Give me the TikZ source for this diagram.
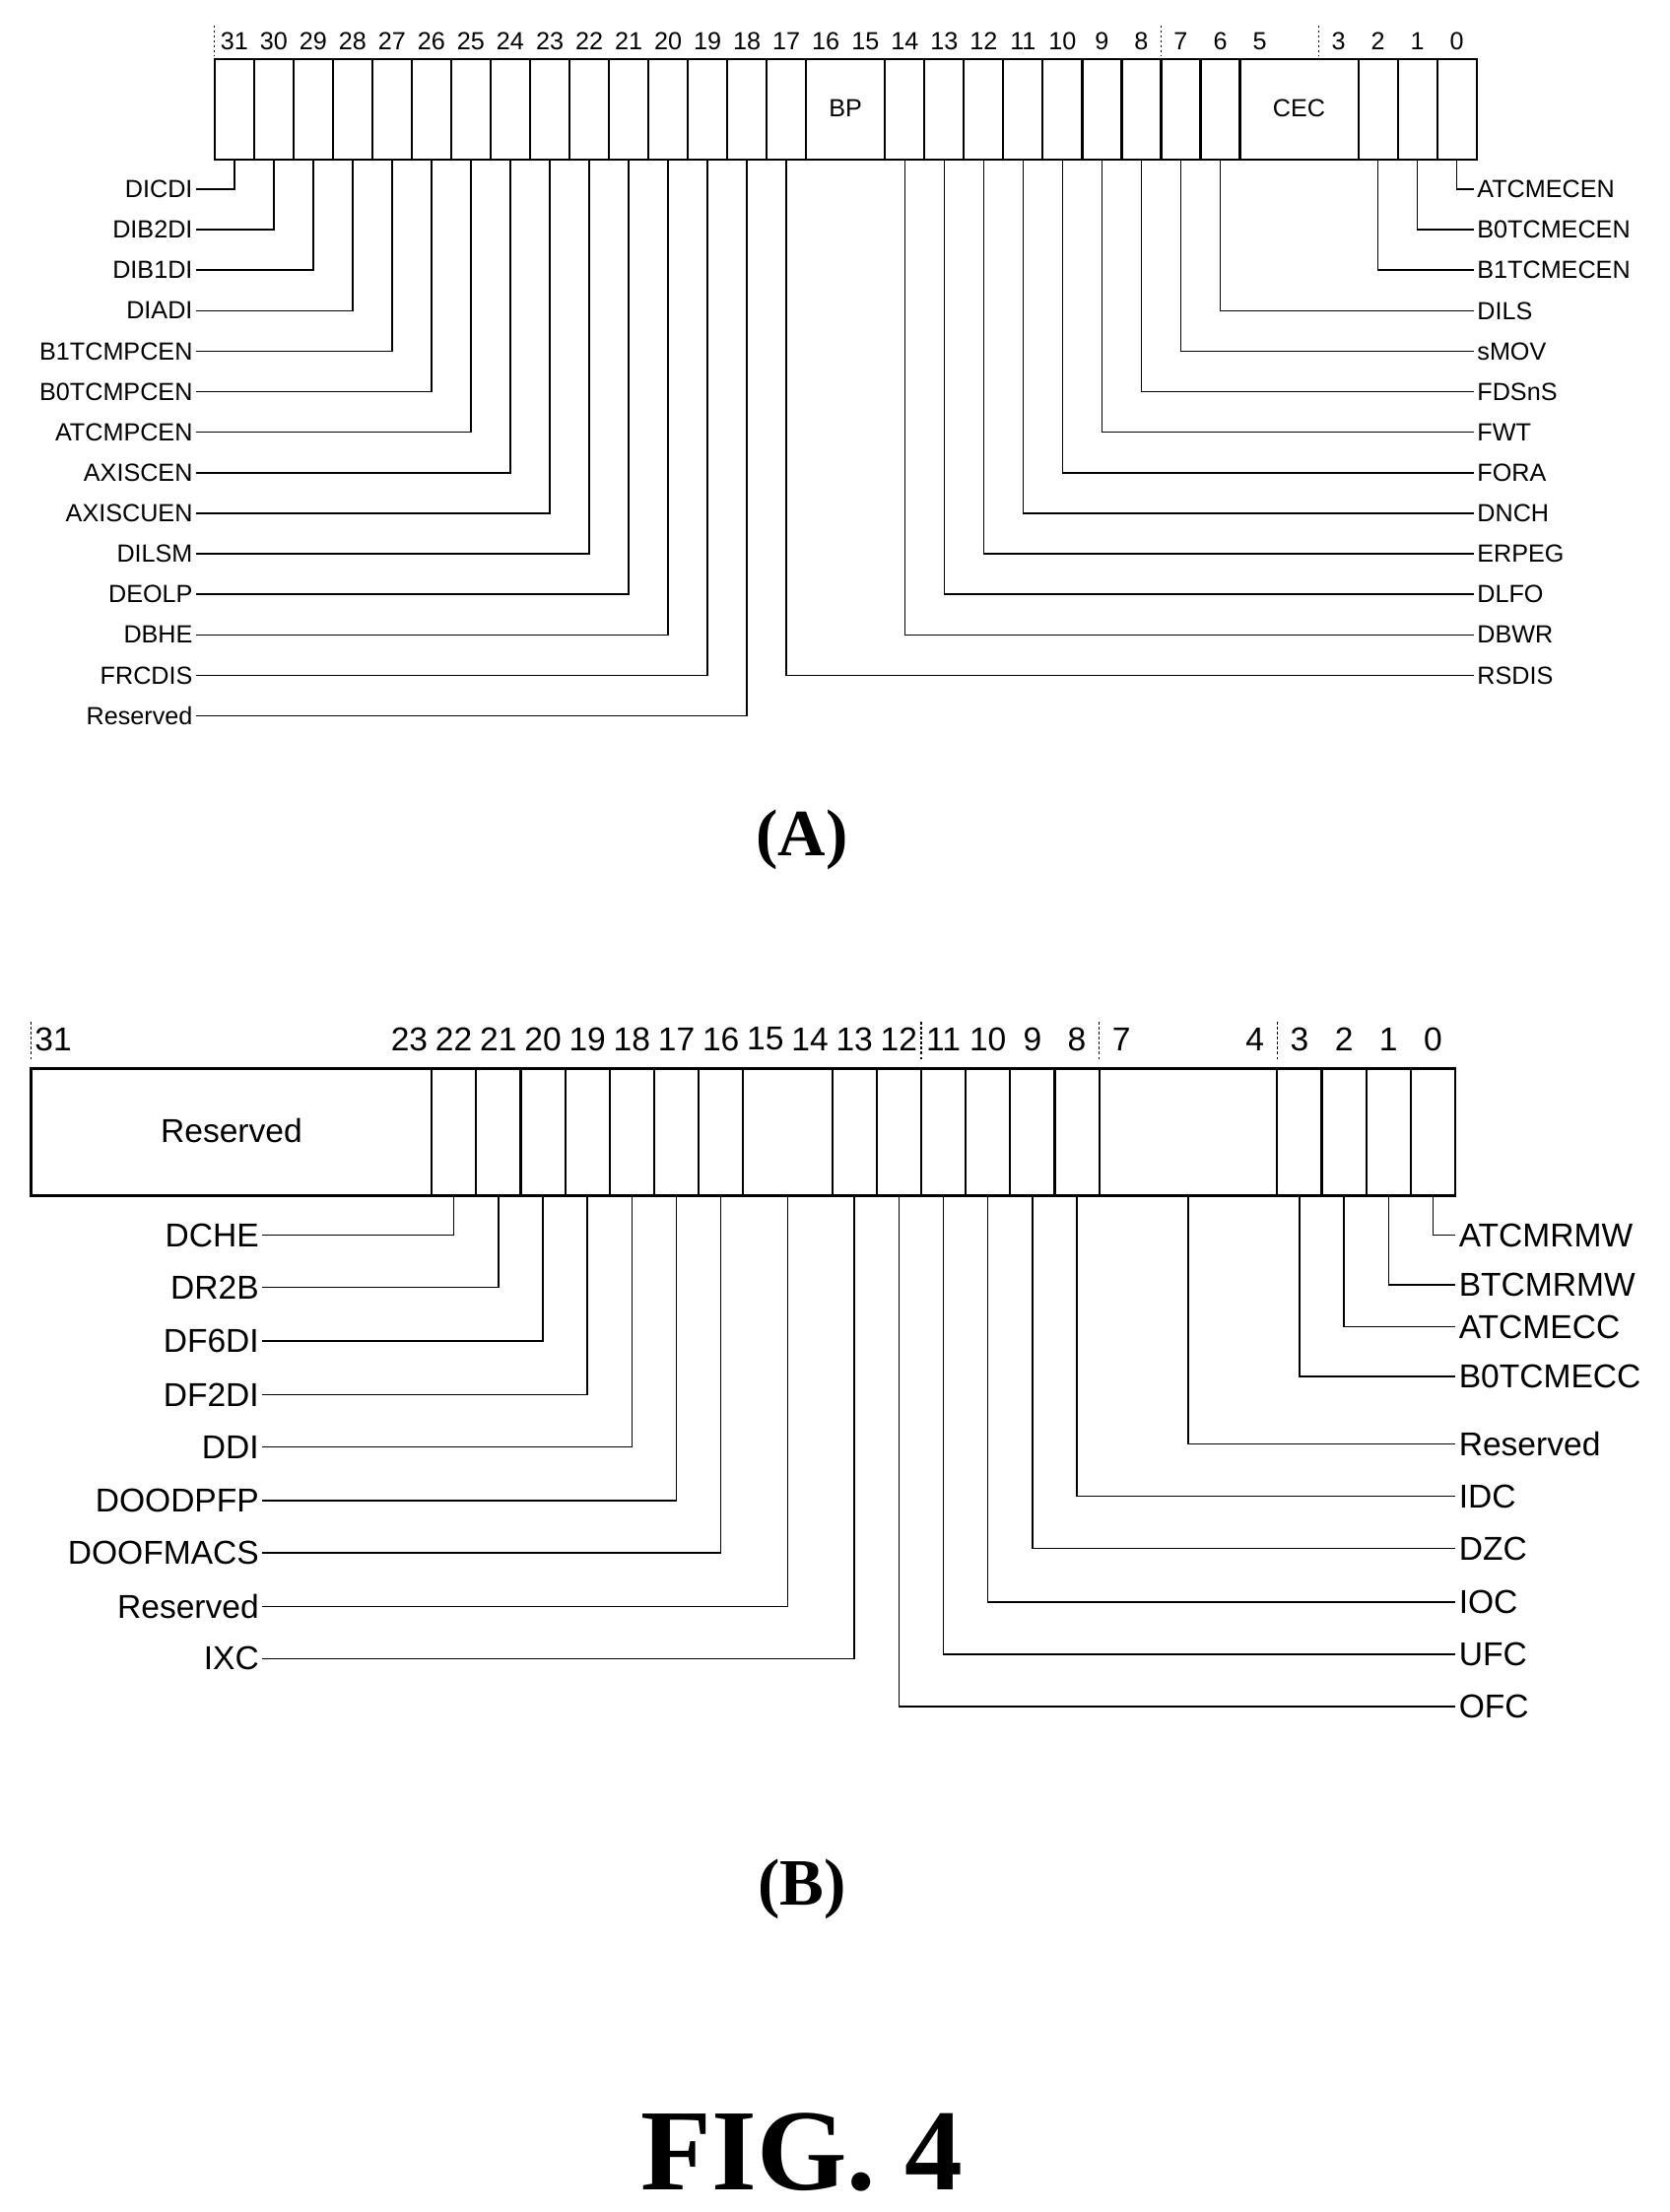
\documentclass[tikz,border=0pt]{standalone}
\usepackage{fontspec}
\setmainfont{Liberation Sans}
\newfontfamily\capfont{Liberation Serif}
\tikzset{
  reg/.style={line width=1.3pt},
  lead/.style={line width=0.9pt},
  tick/.style={line width=0.8pt, dash pattern=on 1.5pt off 1.5pt},
  lblA/.style={font=\fontsize{15}{17}\selectfont, inner sep=2pt},
  lblB/.style={font=\fontsize{20}{23}\selectfont, inner sep=2pt},
  figcap/.style={font=\capfont\bfseries\fontsize{40}{44}\selectfont}
}
\begin{document}
\begin{tikzpicture}[x={(0.03cm,0)}, y={(0,-0.03cm)}]
  \useasboundingbox (0,0) rectangle (1183,1567);

  % Register (A)
  \draw[reg] (152,42) rectangle (1046,113);
  \foreach \k in {1,...,31} {
      \ifnum\k=16 \else\ifnum\k=27 \else\ifnum\k=28 \else
        \draw[reg] ({152+\k*27.94},42) -- ({152+\k*27.94},113);
      \fi\fi\fi
    }
  \node[lblA] (bp) at ({152+16*27.94},77) {BP};
  \node[lblA] (cec) at ({152+27.5*27.94},77) {CEC};
  \foreach \b in {31,30,...,5,3,2,1,0}
    \node[lblA] (aN\b) at ({152+(31.5-\b)*27.94},29) {\b};
  \foreach \k in {0,24,28}
    \draw[tick] ({152+\k*27.94},18) -- ({152+\k*27.94},40);

  \foreach \b/\t [count=\k from 0] in {31/DICDI,30/DIB2DI,29/DIB1DI,28/DIADI,
      27/B1TCMPCEN,26/B0TCMPCEN,25/ATCMPCEN,24/AXISCEN,23/AXISCUEN,
      22/DILSM,21/DEOLP,20/DBHE,19/FRCDIS,18/Reserved} {
      \coordinate (aB\b) at ({152+(31.5-\b)*27.94},113);
      \node[lblA, anchor=east] (aL\b) at (139,{134+\k*28.7}) {\t};
      \draw[lead] (aB\b) |- (aL\b.east);
    }
  \foreach \b/\t [count=\k from 0] in {0/ATCMECEN,1/B0TCMECEN,2/B1TCMECEN,
      6/DILS,7/sMOV,8/FDSnS,9/FWT,10/FORA,11/DNCH,12/ERPEG,13/DLFO,
      14/DBWR,17/RSDIS} {
      \coordinate (aB\b) at ({152+(31.5-\b)*27.94},113);
      \node[lblA, anchor=west] (aR\b) at (1044,{134+\k*28.7}) {\t};
      \draw[lead] (aB\b) |- (aR\b.west);
    }
  \node[figcap] (capA) at (568,595) {(A)};

  % Register (B)
  \draw[reg] (22,757) rectangle (1031,847);
  \foreach \k in {9,...,31} {
      \ifnum\k=17 \else\ifnum\k=25 \else\ifnum\k=26 \else\ifnum\k=27 \else
        \draw[reg] ({22+\k*31.53},757) -- ({22+\k*31.53},847);
      \fi\fi\fi\fi
    }
  \node[lblB] (res) at (164,801) {Reserved};
  \foreach \b in {31,23,22,...,7,4,3,2,1,0}
    \node[lblB] (bN\b) at ({22+(31.5-\b)*31.53},736) {\b};
  \foreach \k in {0,20,24,28}
    \draw[tick] ({22+\k*31.53},724) -- ({22+\k*31.53},750);

  \foreach \b/\t/\y [count=\k] in {22/DCHE/875,21/DR2B/912,20/DF6DI/950,19/DF2DI/988,
      18/DDI/1025,17/DOODPFP/1063,16/DOOFMACS/1100,14.5/Reserved/1138,13/IXC/1175} {
      \coordinate (bBL\k) at ({22+(31.5-\b)*31.53},847);
      \node[lblB, anchor=east] (bL\k) at (186,\y) {\t};
      \draw[lead] (bBL\k) |- (bL\k.east);
    }
  \foreach \b/\t/\y [count=\k] in {0/ATCMRMW/875,1/BTCMRMW/910,2/ATCMECC/940,3/B0TCMECC/975,
      5.5/Reserved/1023,8/IDC/1060,9/DZC/1097,10/IOC/1135,11/UFC/1172,12/OFC/1209} {
      \coordinate (bBR\k) at ({22+(31.5-\b)*31.53},847);
      \node[lblB, anchor=west] (bR\k) at (1031,\y) {\t};
      \draw[lead] (bBR\k) |- (bR\k.west);
    }
  \node[figcap] (capB) at (568,1338) {(B)};

  \node[figcap, font=\capfont\bfseries\fontsize{70}{76}\selectfont] (fig) at (568,1525) {FIG. 4};
\end{tikzpicture}
\end{document}
